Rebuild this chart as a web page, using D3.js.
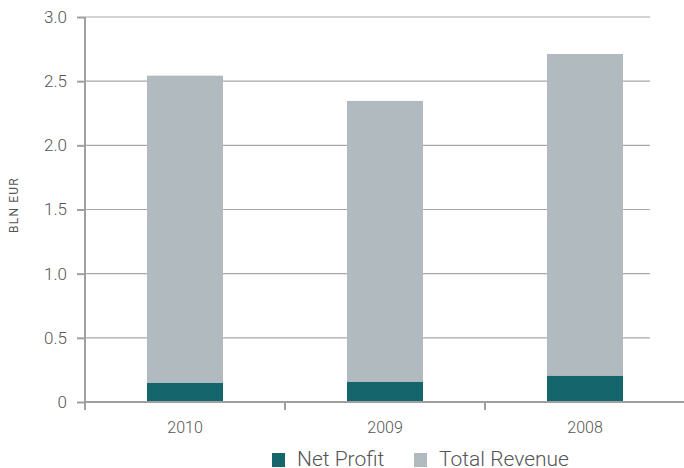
<!DOCTYPE html>
<html>
<head>
<meta charset="utf-8">
<script src="https://cdn.jsdelivr.net/npm/d3@7"></script>
<style>
  body { margin: 0; background: #fff; }
  text { font-family: Roboto, "Open Sans", sans-serif; font-weight: 300; fill: #555; }
</style>
</head>
<body>
<svg id="chart" width="684" height="468"></svg>
<script>
var years = ["2010", "2009", "2008"];
var netProfit = [0.148, 0.156, 0.203];
var totalRevenue = [2.543, 2.346, 2.712];
var yTicks = [0, 0.5, 1.0, 1.5, 2.0, 2.5, 3.0];
var seriesNames = ["Net Profit", "Total Revenue"];
var seriesColors = ["#15666c", "#b0babf"];

var width = 684, height = 468;
var margin = {top: 17, right: -1, bottom: 66, left: 85};

var svg = d3.select("#chart");

var x = d3.scaleBand()
  .domain(years)
  .range([margin.left, width - margin.right])
  .paddingInner(0.62)
  .paddingOuter(0.31);

var y = d3.scaleLinear()
  .domain([0, 3])
  .range([height - margin.bottom, margin.top]);

// gridlines
svg.selectAll(".grid")
  .data(yTicks.filter(function(d){ return d > 0; }))
  .enter().append("line")
    .attr("class", "grid")
    .attr("x1", margin.left)
    .attr("x2", 650)
    .attr("y1", function(d){ return y(d); })
    .attr("y2", function(d){ return y(d); })
    .style("stroke", "#a8a8a8")
    .style("stroke-width", 1.2);

// bars: revenue behind, profit in front
svg.selectAll(".rev")
  .data(years)
  .enter().append("rect")
    .attr("class", "rev")
    .attr("x", function(d){ return x(d); })
    .attr("width", x.bandwidth())
    .attr("y", function(d, i){ return y(totalRevenue[i]); })
    .attr("height", function(d, i){ return y(0) - y(totalRevenue[i]); })
    .attr("fill", seriesColors[1]);

svg.selectAll(".np")
  .data(years)
  .enter().append("rect")
    .attr("class", "np")
    .attr("x", function(d){ return x(d); })
    .attr("width", x.bandwidth())
    .attr("y", function(d, i){ return y(netProfit[i]); })
    .attr("height", function(d, i){ return y(0) - y(netProfit[i]); })
    .attr("fill", seriesColors[0]);

// y axis
var yAxis = d3.axisLeft(y)
  .tickValues(yTicks)
  .tickSize(8)
  .tickPadding(10)
  .tickFormat(function(d){ return d === 0 ? "0" : d3.format(".1f")(d); });

var gy = svg.append("g")
  .attr("transform", "translate(" + margin.left + ",0)")
  .call(yAxis);
gy.select(".domain").remove();
gy.append("line")
  .attr("x1", 0).attr("x2", 0)
  .attr("y1", y(3)).attr("y2", y(0) + 8)
  .style("stroke", "#a0a0a0").style("stroke-width", 2);
gy.selectAll(".tick line").style("stroke", "#a0a0a0").style("stroke-width", 2);
gy.selectAll(".tick text").style("font-size", "17px").style("fill", "#555");

// x axis
var gx = svg.append("g");
gx.append("line")
  .attr("x1", margin.left).attr("x2", width)
  .attr("y1", y(0)).attr("y2", y(0))
  .style("stroke", "#a0a0a0").style("stroke-width", 2);
gx.selectAll(".xtick")
  .data(years)
  .enter().append("line")
    .attr("class", "xtick")
    .attr("x1", function(d){ return x(d) - x.step() * x.paddingOuter(); })
    .attr("x2", function(d){ return x(d) - x.step() * x.paddingOuter(); })
    .attr("y1", y(0))
    .attr("y2", y(0) + 8)
    .style("stroke", "#a0a0a0").style("stroke-width", 2);
gx.selectAll(".xlabel")
  .data(years)
  .enter().append("text")
    .attr("class", "xlabel")
    .attr("x", function(d){ return x(d) + x.bandwidth() / 2; })
    .attr("y", 433)
    .attr("text-anchor", "middle")
    .style("font-size", "16px")
    .text(function(d){ return d; });

// y axis title
svg.append("text")
  .attr("transform", "translate(18,205) rotate(-90)")
  .attr("text-anchor", "middle")
  .style("font-size", "12px")
  .style("letter-spacing", "1.2px")
  .style("font-weight", 400)
  .text("BLN EUR");

// legend
var legendX = [272, 414];
var legend = svg.selectAll(".legend")
  .data(seriesNames)
  .enter().append("g")
    .attr("class", "legend")
    .attr("transform", function(d, i){ return "translate(" + legendX[i] + ",453)"; });
legend.append("rect")
  .attr("width", 13).attr("height", 14)
  .attr("fill", function(d, i){ return seriesColors[i]; });
legend.append("text")
  .attr("x", 25).attr("y", 13)
  .style("font-size", "21px")
  .text(function(d){ return d; });
</script>
</body>
</html>
